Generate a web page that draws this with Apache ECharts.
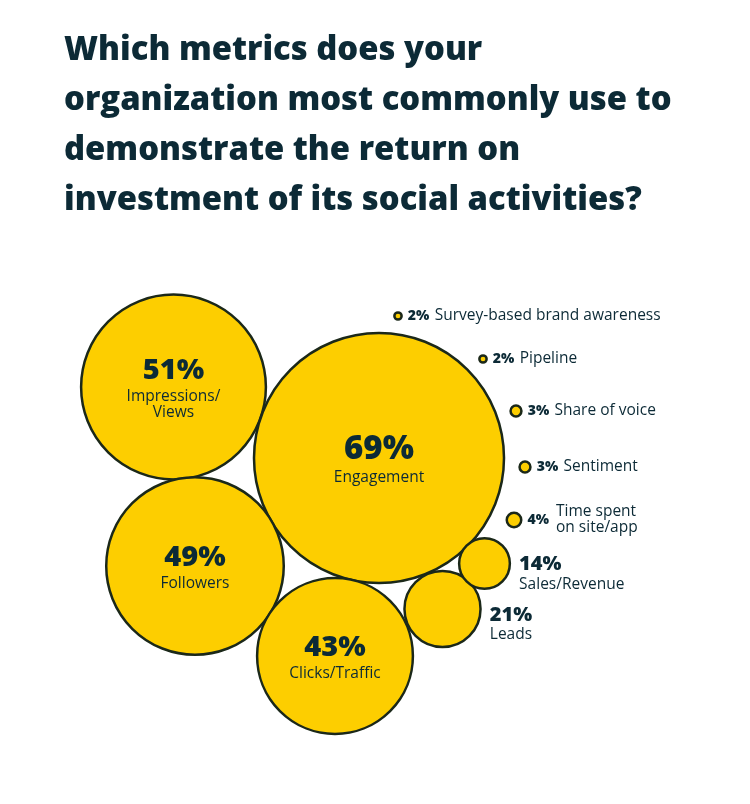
<!DOCTYPE html>
<html><head><meta charset="utf-8">
<script src="https://cdn.jsdelivr.net/npm/echarts@6/dist/echarts.min.js"></script>
<style>html,body{margin:0;padding:0;background:#fff}#c{width:750px;height:804px}</style>
</head><body><div id="c"></div>
<script>
// ---- data ----
const categories = ['Impressions/\nViews','Engagement','Followers','Clicks/Traffic','Leads','Sales/Revenue','Time spent\non site/app','Sentiment','Share of voice','Pipeline','Survey-based brand awareness'];
const values = [51,69,49,43,21,14,4,3,3,2,2];
// ---- bubble layout (centre positions in layout units) ----
const layoutX = [173.5,379,195,335,442.5,484.5,514,525,516,483,398];
const layoutY = [387,458,566,656,609,563.5,520,467,411,359,316];

const TXT = '#0c2a36';
const FILL = '#FDCE00';
const EDGE = '#1b2819';
const NUMFONT = '"Open Sans", sans-serif';
const RADIUS_PER_PCT = 125/69;

function labelFor(v, name){
  if (v >= 40) {
    return {
      show:true, position:'inside',
      formatter: (v>=60?'{pl|':'{p|') + v + '%}\n{n|' + name + '}',
      rich:{
        p:{fontFamily:NUMFONT,fontWeight:800,fontSize:29,color:TXT,lineHeight:36,align:'center'},
        pl:{fontFamily:NUMFONT,fontWeight:800,fontSize:33,color:TXT,lineHeight:40,align:'center'},
        n:{fontFamily:'"Open Sans", sans-serif',fontWeight:500,fontSize:15.5,color:TXT,lineHeight:16,align:'center'}
      }
    };
  }
  if (v >= 10) {
    const r = v*RADIUS_PER_PCT;
    return {
      show:true, position:'right', distance:8, offset:[0, Math.round(r*0.4)],
      formatter: '{p|' + v + '%}\n{n|' + name + '}',
      rich:{
        p:{fontFamily:NUMFONT,fontWeight:800,fontSize:20,color:TXT,lineHeight:22,align:'left'},
        n:{fontFamily:'"Open Sans", sans-serif',fontWeight:500,fontSize:15.5,color:TXT,lineHeight:18,align:'left'}
      }
    };
  }
  const multi = name.indexOf('\n') >= 0;
  return {
    show:true, position:'right', distance:5,
    formatter: multi ? '{b|' + v + '%}' : '{b|' + v + '%} {n|' + name + '}',
    rich:{
      b:{fontFamily:NUMFONT,fontWeight:800,fontSize:14,color:TXT,padding:[0,2,0,0]},
      n:{fontFamily:'"Open Sans", sans-serif',fontWeight:500,fontSize:15.5,color:TXT}
    }
  };
}

const bubbleData = values.map((v,i)=>({
  name: categories[i],
  value:[layoutX[i], layoutY[i], v],
  symbolSize: 2*v*RADIUS_PER_PCT,
  label: labelFor(v, categories[i])
}));

// names for small items whose name spans two lines
const noteData = [];
values.forEach((v,i)=>{
  if (v < 10 && categories[i].indexOf('\n')>=0) {
    noteData.push({name:categories[i], value:[layoutX[i], layoutY[i], v]});
  }
});

const chart = echarts.init(document.getElementById('c'), null, {renderer:'canvas'});
chart.setOption({
  backgroundColor:'#fff',
  animation:false,
  title:{
    text:'Which metrics does your\norganization most commonly use to\ndemonstrate the return on\ninvestment of its social activities?',
    left:59, top:21,
    textStyle:{fontFamily:'"Open Sans", sans-serif',fontWeight:800,fontSize:32.8,lineHeight:50,color:TXT}
  },
  grid:{left:0,right:0,top:0,bottom:0},
  xAxis:{type:'value',min:0,max:750,show:false},
  yAxis:{type:'value',min:0,max:804,inverse:true,show:false},
  series:[
    {
      type:'scatter',
      data:bubbleData,
      symbol:'circle',
      itemStyle:{color:FILL,borderColor:EDGE,borderWidth:2.5,opacity:1},
      emphasis:{disabled:true},
      z:2
    },
    {
      type:'scatter',
      data:noteData,
      symbol:'circle',
      symbolSize:2,
      itemStyle:{color:'rgba(0,0,0,0)',borderWidth:0,opacity:1},
      label:{show:true,position:'right',distance:41,formatter:p=>p.name,opacity:1,
        fontFamily:'"Open Sans", sans-serif',fontWeight:500,fontSize:15.5,lineHeight:16,color:TXT},
      emphasis:{disabled:true},
      z:3
    }
  ]
});
</script></body></html>
